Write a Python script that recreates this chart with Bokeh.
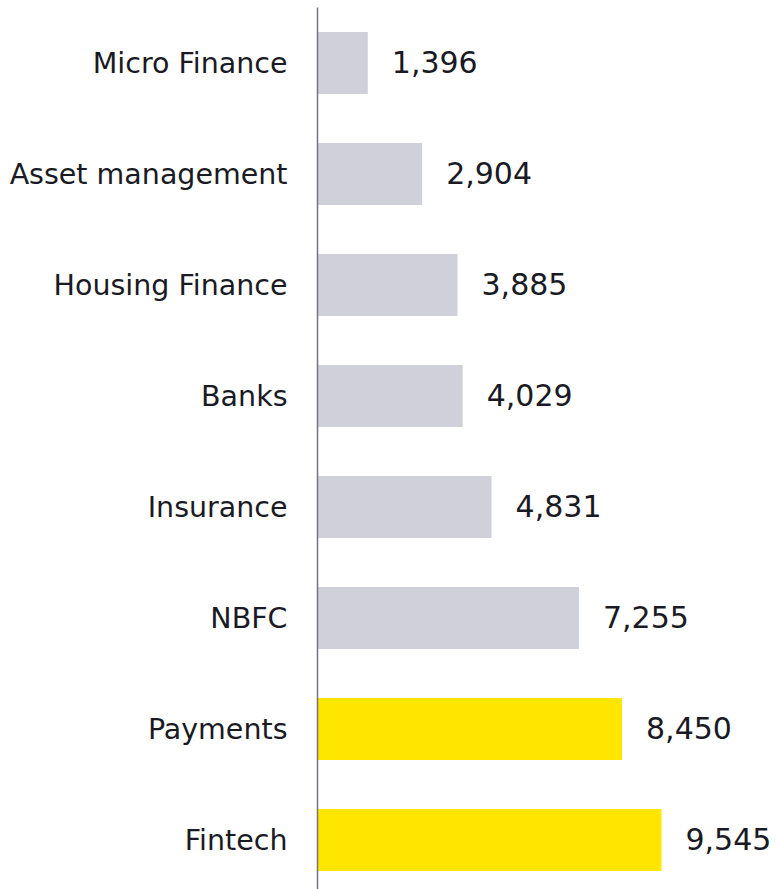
from bokeh.plotting import figure
from bokeh.models import Range1d, ColumnDataSource, FixedTicker
from bokeh.core.properties import value
from bokeh.embed import file_html
from bokeh.resources import INLINE

categories = ["Micro Finance", "Asset management", "Housing Finance", "Banks",
              "Insurance", "NBFC", "Payments", "Fintech"]
values = [1396, 2904, 3885, 4029, 4831, 7255, 8450, 9545]
highlight = [False, False, False, False, False, False, True, True]
value_labels = [f"{v:,}" for v in values]

GRAY = "#d0d0da"
YELLOW = "#ffe600"
TEXT = "#1a1a24"
FONT = "DejaVu Sans"

ypos = list(range(len(categories)))
colors = [YELLOW if h else GRAY for h in highlight]
src = ColumnDataSource(dict(y=ypos, v=values, c=colors, lab=value_labels))

W, H = 777, 889
left = 317
top = 7
frame_w = W - left
frame_h = H - top
px_per_unit = 344 / 9545
step = 111

p = figure(width=W, height=H, output_backend="svg", toolbar_location=None,
           x_range=Range1d(0, frame_w / px_per_unit),
           y_range=Range1d(-0.5 + frame_h / step, -0.5),
           min_border_left=left, min_border_right=0, min_border_top=top,
           min_border_bottom=0)
p.outline_line_color = None
p.xgrid.visible = False
p.ygrid.visible = False
p.xaxis.visible = False
p.background_fill_color = "white"
p.border_fill_color = "white"

p.hbar(y="y", right="v", left=0, height=0.56, fill_color="c", line_color=None, source=src)
t = p.text(x="v", y="y", text="lab", source=src, x_offset=24, y_offset=-1,
           text_baseline="middle", text_align="left", text_font=value(FONT),
           text_font_size="30px", text_color=TEXT)
t.level = "overlay"

ax = p.yaxis[0]
ax.ticker = FixedTicker(ticks=ypos)
ax.major_label_overrides = {i: c for i, c in enumerate(categories)}
ax.major_tick_line_color = None
ax.minor_tick_line_color = None
ax.axis_line_color = "#747480"
ax.axis_line_width = 1.5
ax.major_label_standoff = 24
ax.major_label_text_font = FONT
ax.major_label_text_font_size = "28.5px"
ax.major_label_text_color = TEXT

open("out.html", "w").write(file_html(p, INLINE))
